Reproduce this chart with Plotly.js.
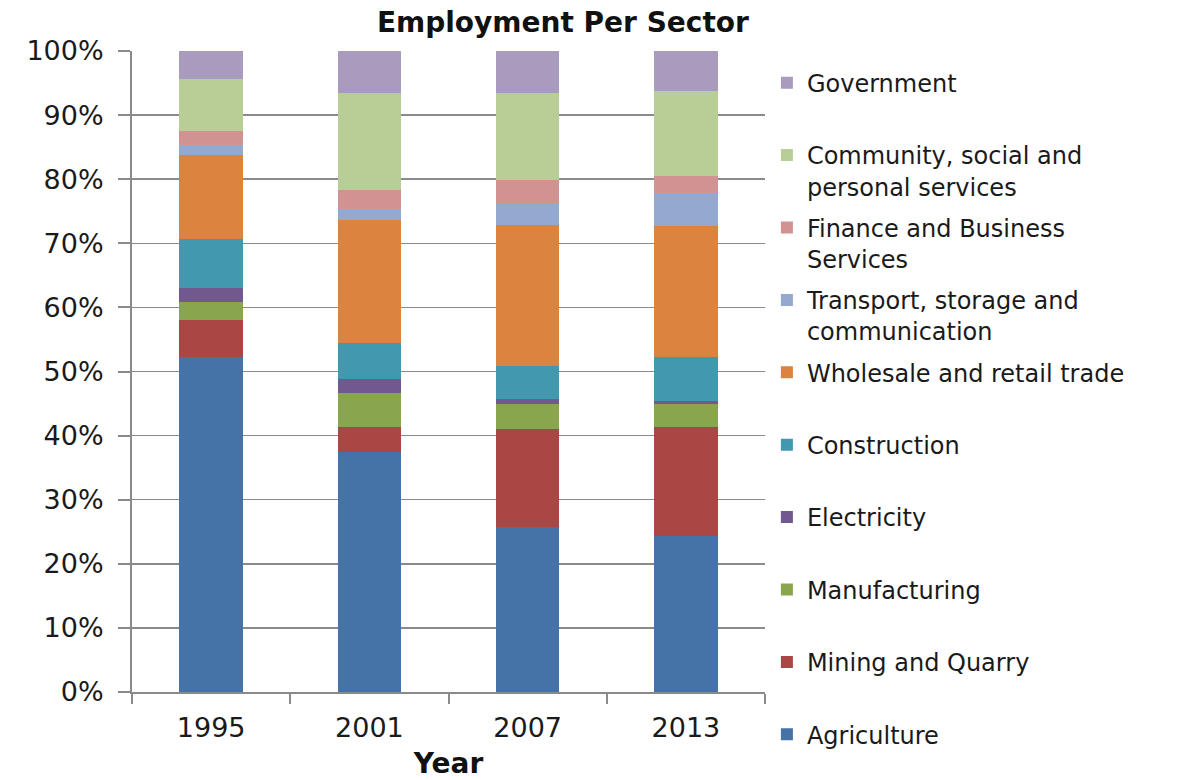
<!DOCTYPE html>
<html>
<head>
<meta charset="utf-8">
<script src="https://cdn.plot.ly/plotly-3.0.1.min.js"></script>
<style>html,body{margin:0;padding:0;background:#fff;}#chart{width:1185px;height:780px;}</style>
</head>
<body>
<div id="chart"></div>
<script>
const years = ["1995", "2001", "2007", "2013"];
const sectors = ["Agriculture", "Mining and Quarry", "Manufacturing", "Electricity", "Construction",
  "Wholesale and retail trade", "Transport, storage and<br>communication", "Finance and Business<br>Services",
  "Community, social and<br>personal services", "Government"];
const agriculture   = [52.3, 37.5, 25.8, 24.4];
const mining        = [5.8, 3.9, 15.2, 17.0];
const manufacturing = [2.7, 5.2, 4.0, 3.6];
const electricity   = [2.3, 2.3, 0.7, 0.4];
const construction  = [7.5, 5.6, 5.2, 6.9];
const wholesale     = [13.1, 19.2, 22.0, 20.4];
const transport     = [1.6, 1.7, 3.2, 5.2];
const finance       = [2.2, 2.9, 3.8, 2.6];
const community     = [8.1, 15.2, 13.6, 13.2];
const government    = [4.4, 6.5, 6.5, 6.3];
const yTicks = [0, 10, 20, 30, 40, 50, 60, 70, 80, 90, 100];

const seriesValues = [agriculture, mining, manufacturing, electricity, construction,
  wholesale, transport, finance, community, government];
const colors = ["#4572A7", "#AA4643", "#89A54E", "#71588F", "#4198AF",
  "#DB843D", "#93A9CF", "#D19392", "#B9CD96", "#A99BBD"];

const traces = seriesValues.map((vals, i) => {
  let name = sectors[i];
  // pad single-line legend entries (except the last one shown) so every entry has the same height
  if (name.indexOf("<br>") < 0 && i > 0) name = name + "<br>\u00a0";
  return {
    type: "bar",
    x: years,
    y: vals,
    name: name,
    legendgroup: "g" + i,
    legendrank: 1000 - i,
    marker: {color: colors[i], line: {width: 0}},
    hoverinfo: "name+y"
  };
});

const font = "DejaVu Sans, Verdana, sans-serif";
const layout = {
  width: 1185, height: 780,
  margin: {l: 132, r: 420, t: 51, b: 88},
  paper_bgcolor: "#ffffff", plot_bgcolor: "#ffffff",
  barmode: "stack",
  bargap: 0.6,
  font: {family: font, size: 26, color: "#1a1a1a"},
  title: {text: "<b>Employment Per Sector</b>", x: 0.475, xanchor: "center", xref: "container",
    y: 0.972, yanchor: "middle", yref: "container", font: {family: font, size: 28, color: "#111"}},
  xaxis: {
    type: "category",
    showline: true, linecolor: "#8a8a8a", linewidth: 2,
    ticks: "outside", tickson: "boundaries", ticklen: 10, tickcolor: "#8a8a8a", tickwidth: 2,
    showgrid: false,
    tickfont: {family: font, size: 27, color: "#1a1a1a"},
    ticklabelstandoff: 11,
    title: {text: "<b>Year</b>", font: {family: font, size: 28, color: "#111"}, standoff: 15}
  },
  yaxis: {
    range: [0, 100], tickvals: yTicks, ticktext: yTicks.map(v => v + "%"),
    showline: true, linecolor: "#8a8a8a", linewidth: 2,
    ticks: "outside", ticklen: 12, tickcolor: "#8a8a8a", tickwidth: 2,
    showgrid: true, gridcolor: "#8a8a8a", gridwidth: 1.5,
    zeroline: false,
    tickfont: {family: font, size: 27, color: "#1a1a1a"},
    ticklabelstandoff: 9
  },
  legend: {
    x: 1.003, xanchor: "left", xref: "paper",
    y: 0.985, yanchor: "top",
    maxheight: 760,
    traceorder: "grouped",
    tracegroupgap: 7,
    valign: "top",
    font: {family: font, size: 24, color: "#1a1a1a"},
    bgcolor: "rgba(0,0,0,0)", borderwidth: 0
  },
  showlegend: true
};

Plotly.newPlot("chart", traces, layout, {displayModeBar: false, staticPlot: true});
</script>
</body>
</html>
